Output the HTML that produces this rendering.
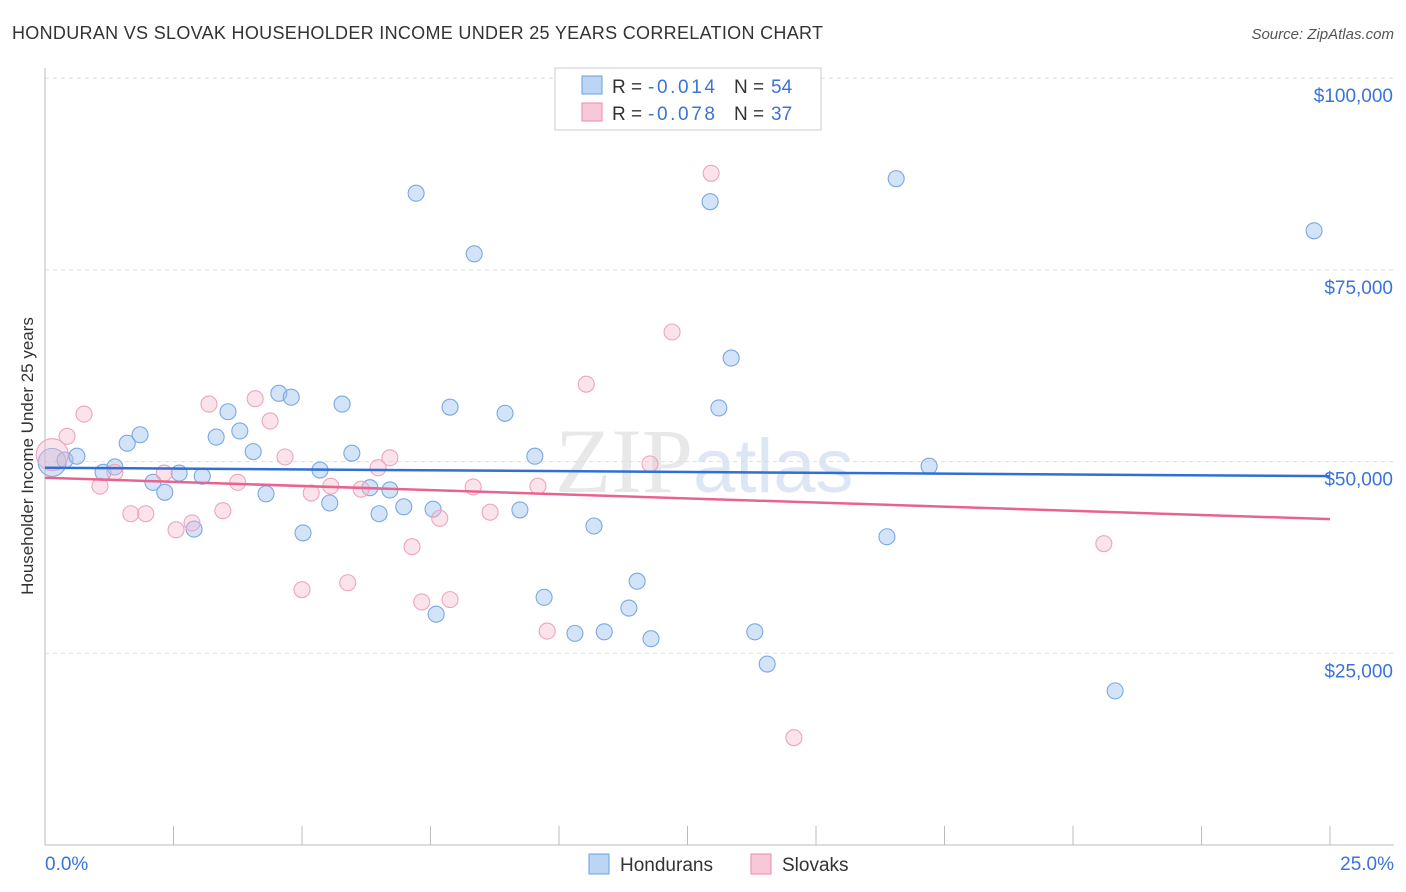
<!DOCTYPE html>
<html><head><meta charset="utf-8"><style>
body{margin:0;background:#fff;font-family:"Liberation Sans",sans-serif}
svg{display:block}
</style></head><body>
<svg id="c" width="1406" height="892" font-family="Liberation Sans, sans-serif">
<text x="12" y="39" font-size="18" fill="#333" textLength="811">HONDURAN VS SLOVAK HOUSEHOLDER INCOME UNDER 25 YEARS CORRELATION CHART</text>
<text x="1394" y="39" font-size="15" fill="#555" font-style="italic" text-anchor="end">Source: ZipAtlas.com</text>
<text x="555" y="492" font-size="92" fill="#e8e8e8" font-family="Liberation Serif, serif">ZIP<tspan fill="#dce6f4" font-family="Liberation Sans, sans-serif" font-size="76">atlas</tspan></text>
<text transform="translate(33,456) rotate(-90)" font-size="17" fill="#333" text-anchor="middle">Householder Income Under 25 years</text>
<g id="grid"></g><g id="ax"></g><g id="pts"></g><g id="trend"></g>
<g>
<rect x="555" y="68" width="266" height="62" fill="#fff" stroke="#ccc"/>
<rect x="582" y="76" width="20" height="18" fill="#bcd5f5" stroke="#6a9fe0"/>
<rect x="582" y="103" width="20" height="18" fill="#f9c8d8" stroke="#e88aaa"/>
<text x="612" y="93" font-size="19" fill="#333">R = <tspan x="648" fill="#3a73d8" textLength="67">-0.014</tspan><tspan x="734">N = </tspan><tspan x="771" fill="#3a73d8">54</tspan></text>
<text x="612" y="120" font-size="19" fill="#333">R = <tspan x="648" fill="#3a73d8" textLength="67">-0.078</tspan><tspan x="734">N = </tspan><tspan x="771" fill="#3a73d8">37</tspan></text>
</g>
<g>
<rect x="589" y="854" width="20" height="20" fill="#bcd5f5" stroke="#6a9fe0"/>
<text x="620" y="871" font-size="19" fill="#333">Hondurans</text>
<rect x="751" y="854" width="20" height="20" fill="#f9c8d8" stroke="#e88aaa"/>
<text x="782" y="871" font-size="19" fill="#333">Slovaks</text>
</g>
</svg>
<script>
const hx=[0.14,0.39,0.62,1.13,1.36,1.60,1.85,2.10,2.33,2.61,2.90,3.06,3.33,3.56,3.79,4.05,4.30,4.55,4.79,5.02,5.35,5.54,5.78,5.97,6.32,6.50,6.71,6.98,7.22,7.55,7.61,7.88,8.35,8.95,9.24,9.53,9.71,10.31,10.68,10.88,11.36,11.52,11.79,12.94,13.11,13.35,13.81,14.05,16.38,16.56,17.20,20.82,24.69];
const hy=[49.9,50.2,50.7,48.6,49.3,52.4,53.5,47.3,46.0,48.5,41.2,48.1,53.2,56.5,54.0,51.3,45.8,58.9,58.4,40.7,48.9,44.6,57.5,51.1,46.6,43.2,46.3,44.1,85.0,43.8,30.1,57.1,77.1,56.3,43.7,50.7,32.3,27.6,41.6,27.8,30.9,34.4,26.9,83.9,57.0,63.5,27.8,23.6,40.2,86.9,49.4,20.1,80.1];
const sx=[0.14,0.43,0.76,1.07,1.36,1.67,1.96,2.32,2.55,2.86,3.19,3.46,3.75,4.09,4.38,4.67,5.00,5.18,5.56,5.89,6.15,6.48,6.71,7.14,7.33,7.68,7.88,8.33,8.66,9.59,9.77,10.53,11.77,12.20,12.96,14.57,20.60];
const sy=[50.9,53.3,56.2,46.8,48.6,43.2,43.2,48.5,41.1,42.0,57.5,43.6,47.3,58.2,55.3,50.6,33.3,45.9,46.8,34.2,46.4,49.2,50.5,38.9,31.7,42.6,32.0,46.7,43.4,46.8,27.9,60.1,49.7,66.9,87.6,14.0,39.3];
const yTicks=[25,50,75,100];
const yLabels=["$25,000","$50,000","$75,000","$100,000"];
const hTrend=[49.2,48.1];
const sTrend=[47.9,42.5];
const X=v=>45+v/25*1285, Y=v=>845-v*7.668;
const NS="http://www.w3.org/2000/svg";
function mk(p,t,a){const e=document.createElementNS(NS,t);for(const k in a)e.setAttribute(k,a[k]);document.getElementById(p).appendChild(e);return e;}
yTicks.forEach((v,i)=>{
 const l=mk('grid','line',{x1:45,x2:1394,y1:Y(v),y2:Y(v),stroke:'#ddd','stroke-dasharray':'4,4'});
 
 
 const t=mk('ax','text',{x:1393,y:Y(v)+24,'font-size':19,fill:'#3a73d8','text-anchor':'end'});t.textContent=yLabels[i];
 
 
});
mk('ax','line',{x1:45,x2:45,y1:68,y2:845,stroke:'#bbb'});
mk('ax','line',{x1:45,x2:1394,y1:845,y2:845,stroke:'#bbb'});
for(let i=0;i<=10;i++){const l=mk('ax','line',{x1:X(i*2.5),x2:X(i*2.5),y1:826,y2:845,stroke:'#bbb'});
 
 }
let t1=mk('ax','text',{x:45,y:870,'font-size':19,fill:'#3a73d8'});t1.textContent='0.0%';


let t2=mk('ax','text',{x:1394,y:870,'font-size':19,fill:'#3a73d8','text-anchor':'end'});t2.textContent='25.0%';


hx.forEach((v,i)=>{const c=mk('pts','circle',{cx:X(v),cy:Y(hy[i]),r:i==0?14:8,fill:'rgba(160,196,240,0.45)',stroke:'#7aa8e4','stroke-width':1.1});
 
 });
sx.forEach((v,i)=>{const c=mk('pts','circle',{cx:X(v),cy:Y(sy[i]),r:i==0?16:8,fill:'rgba(244,184,204,0.4)',stroke:'#eda5bd','stroke-width':1.1});
 
 });
const l1=mk('trend','line',{x1:X(0),x2:X(25),y1:Y(hTrend[0]),y2:Y(hTrend[1]),stroke:'#2f6fd6','stroke-width':2.5});


const l2=mk('trend','line',{x1:X(0),x2:X(25),y1:Y(sTrend[0]),y2:Y(sTrend[1]),stroke:'#e8648e','stroke-width':2.5});


</script>
</body></html>
